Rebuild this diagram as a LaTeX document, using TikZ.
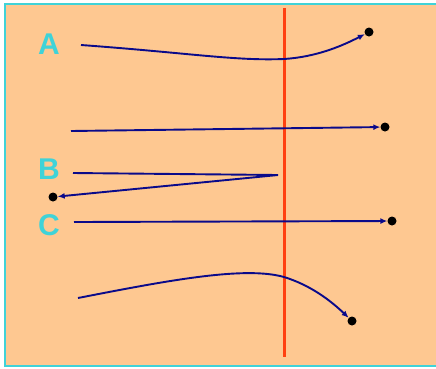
\documentclass[tikz,border=0pt]{standalone}
\usepackage{fontspec}
\setmainfont{Liberation Sans}
\usetikzlibrary{arrows.meta}
\definecolor{peach}{HTML}{FEC891}
\definecolor{cyanb}{HTML}{3FD3D8}
\definecolor{redl}{HTML}{FF4010}
\definecolor{navy}{HTML}{0A0A8A}
\tikzset{
  ray/.style={draw=navy, line width=1.9pt, -{Latex[length=7pt,width=6pt]}},
  dot/.style={circle, fill=black, inner sep=0pt, minimum size=9pt},
  lbl/.style={text=cyanb, font=\fontsize{30}{30}\selectfont\bfseries, inner sep=0pt}
}
\begin{document}
\begin{tikzpicture}[x=1pt,y=-1pt]
\useasboundingbox (0,0) rectangle (436,368);
\fill[peach] (5,4) rectangle (436,366);
\draw[cyanb, line width=2pt] (436,4) -- (5,4) -- (5,366) -- (436,366);
\draw[redl, line width=3pt] (284,8) -- (284,357);
\node[lbl] (A) at (49,44) {A};
\node[lbl] (B) at (49,169) {B};
\node[lbl] (C) at (49,225) {C};
\node[dot] (d1) at (369,32) {};
\node[dot] (d2) at (385,127) {};
\node[dot] (d3) at (53,197) {};
\node[dot] (d4) at (392,221) {};
\node[dot] (d5) at (352,321) {};
\coordinate (s1) at (81,45);
\coordinate (s2) at (71,131);
\coordinate (s3) at (73,173);
\coordinate (t3) at (278,175);
\coordinate (s4) at (74,222);
\coordinate (s5) at (78,298);
\coordinate (m1) at (284,59);
\coordinate (m5) at (284,277);
\draw[ray] (s1) .. controls (190,53) and (235,61) .. (m1) .. controls (315,57) and (340,47) .. (d1);
\draw[ray] (s2) -- (d2);
\draw[ray] (s3) -- (t3) -- (d3);
\draw[ray] (s4) -- (d4);
\draw[ray] (s5) .. controls (170,280) and (245,266) .. (m5) .. controls (310,285) and (330,300) .. (d5);
\end{tikzpicture}
\end{document}
